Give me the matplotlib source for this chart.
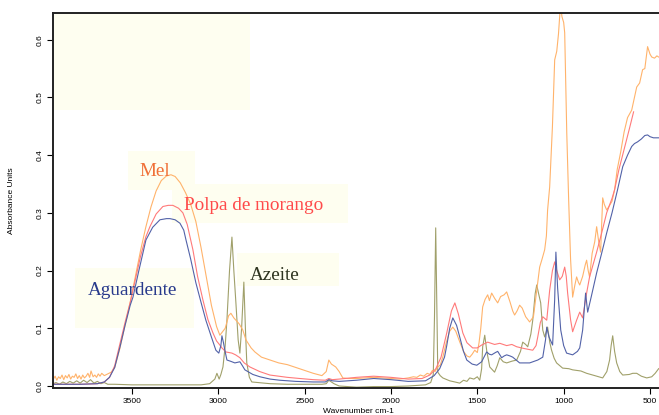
import matplotlib
matplotlib.use('Agg')
import matplotlib.pyplot as plt
from matplotlib.patches import Rectangle

# FTIR spectra - wavenumber (cm-1) and absorbance
mel_wn = [3955, 3945, 3935, 3925, 3915, 3905, 3895, 3885, 3875, 3865, 3855, 3845,
          3835, 3825, 3815, 3805, 3795, 3785, 3775, 3765, 3755, 3745, 3737, 3725,
          3715, 3705, 3695, 3685, 3675, 3660, 3640, 3620, 3600, 3570, 3540, 3510,
          3480, 3450, 3420, 3390, 3360, 3330, 3300, 3274, 3250, 3220, 3190, 3160,
          3130, 3100, 3070, 3040, 3010, 2991, 2960, 2940, 2927, 2910, 2898, 2880,
          2858, 2840, 2810, 2788, 2750, 2700, 2650, 2600, 2550, 2500, 2450, 2400,
          2375, 2360, 2345, 2320, 2300, 2279, 2250, 2200, 2150, 2100, 2050, 2000,
          1950, 1900, 1870, 1850, 1830, 1810, 1790, 1775, 1760, 1745, 1730, 1715,
          1700, 1680, 1660, 1642, 1625, 1600, 1580, 1560, 1544, 1530, 1515, 1500,
          1490, 1480, 1469, 1455, 1440, 1430, 1417, 1400, 1382, 1365, 1345, 1330,
          1310, 1295, 1284, 1270, 1255, 1240, 1220, 1197, 1175, 1156, 1139, 1125,
          1110, 1100, 1093, 1081, 1065, 1052, 1040, 1030, 1022, 1017, 1010, 1000,
          994, 982, 971, 960, 948, 935, 925, 915, 907, 890, 875, 867, 858, 850,
          835, 820, 809, 797, 786, 774, 765, 751, 740, 720, 705, 690, 670, 650,
          630, 606, 590, 577, 560, 543, 530, 514, 500, 490, 474, 460, 450]
mel_abs = [0.012, 0.017, 0.010, 0.016, 0.013, 0.019, 0.011, 0.018, 0.014, 0.020, 0.012, 0.017,
           0.015, 0.021, 0.013, 0.018, 0.012, 0.019, 0.014, 0.017, 0.022, 0.015, 0.026, 0.016,
           0.019, 0.015, 0.021, 0.017, 0.022, 0.018, 0.021, 0.024, 0.032, 0.065, 0.105, 0.145,
           0.190, 0.235, 0.275, 0.310, 0.338, 0.356, 0.364, 0.366, 0.363, 0.352, 0.335, 0.315,
           0.285, 0.240, 0.190, 0.140, 0.103, 0.088, 0.100, 0.122, 0.126, 0.118, 0.114, 0.108,
           0.097, 0.080, 0.066, 0.059, 0.050, 0.045, 0.040, 0.037, 0.032, 0.027, 0.022, 0.018,
           0.025, 0.045, 0.038, 0.033, 0.025, 0.014, 0.013, 0.013, 0.014, 0.015, 0.014, 0.013,
           0.012, 0.014, 0.016, 0.015, 0.019, 0.017, 0.022, 0.020, 0.027, 0.025, 0.033, 0.036,
           0.050, 0.075, 0.095, 0.102, 0.095, 0.075, 0.060, 0.052, 0.050, 0.055, 0.062, 0.058,
           0.075, 0.100, 0.137, 0.150, 0.158, 0.148, 0.161, 0.152, 0.144, 0.155, 0.158, 0.163,
           0.145, 0.130, 0.123, 0.130, 0.140, 0.135, 0.120, 0.111, 0.120, 0.166, 0.206, 0.220,
           0.236, 0.260, 0.305, 0.345, 0.450, 0.565, 0.580, 0.610, 0.645, 0.660, 0.640, 0.630,
           0.612, 0.438, 0.322, 0.220, 0.154, 0.175, 0.189, 0.180, 0.175, 0.190, 0.210, 0.218, 0.200, 0.189,
           0.230, 0.250, 0.276, 0.250, 0.232, 0.326, 0.315, 0.305, 0.310, 0.320, 0.340, 0.375, 0.405, 0.440,
           0.465, 0.478, 0.500, 0.518, 0.525, 0.548, 0.550, 0.588, 0.575, 0.570, 0.568, 0.572, 0.570]

polpa_wn = [3955, 3800, 3700, 3660, 3630, 3600, 3569, 3540, 3510, 3480, 3450, 3420,
            3396, 3360, 3321, 3290, 3263, 3230, 3205, 3180, 3147, 3120, 3089, 3060,
            3031, 3010, 2991, 2979, 2956, 2921, 2900, 2875, 2850, 2817, 2760, 2701,
            2600, 2528, 2450, 2380, 2360, 2340, 2300, 2200, 2100, 2000, 1900, 1820,
            1775, 1740, 1710, 1677, 1650, 1630, 1610, 1584, 1560, 1527, 1500, 1475,
            1440, 1400, 1370, 1330, 1300, 1272, 1230, 1179, 1160, 1150, 1135, 1121,
            1098, 1081, 1065, 1052, 1040, 1023, 1008, 994, 985, 977, 960, 948,
            925, 907, 890, 867, 850, 830, 809, 780, 751, 720, 705, 680, 650, 620, 595]
polpa_abs = [0.003, 0.003, 0.004, 0.007, 0.015, 0.035, 0.074, 0.110, 0.145, 0.185, 0.225, 0.258,
             0.276, 0.298, 0.311, 0.313, 0.313, 0.308, 0.300, 0.280, 0.236, 0.190, 0.149, 0.115,
             0.092, 0.078, 0.071, 0.066, 0.059, 0.057, 0.054, 0.049, 0.040, 0.033, 0.025, 0.019,
             0.015, 0.013, 0.011, 0.010, 0.013, 0.011, 0.012, 0.015, 0.017, 0.015, 0.012, 0.013,
             0.019, 0.030, 0.050, 0.092, 0.130, 0.144, 0.125, 0.092, 0.075, 0.066, 0.066, 0.071,
             0.076, 0.072, 0.074, 0.070, 0.072, 0.068, 0.065, 0.062, 0.070, 0.085, 0.110, 0.120,
             0.114, 0.166, 0.200, 0.215, 0.200, 0.184, 0.190, 0.206, 0.190, 0.161, 0.115, 0.094,
             0.114, 0.128, 0.118, 0.161, 0.189, 0.210, 0.232, 0.265, 0.300, 0.325, 0.340, 0.375, 0.410, 0.445, 0.475]

aguard_wn = [3955, 3800, 3700, 3660, 3630, 3600, 3569, 3540, 3510, 3494, 3460, 3419,
             3380, 3338, 3300, 3280, 3250, 3222, 3200, 3187, 3160, 3130, 3100, 3072,
             3040, 3014, 2997, 2985, 2979, 2970, 2962, 2950, 2930, 2904, 2875, 2860,
             2846, 2800, 2759, 2700, 2644, 2550, 2450, 2380, 2360, 2340, 2300, 2200,
             2100, 2000, 1900, 1800, 1750, 1718, 1690, 1677, 1660, 1642, 1620, 1602,
             1580, 1561, 1530, 1503, 1475, 1446, 1430, 1417, 1395, 1382, 1359, 1345,
             1330, 1310, 1295, 1255, 1197, 1150, 1121, 1105, 1098, 1085, 1064, 1052,
             1045, 1035, 1017, 1000, 983, 948, 920, 907, 890, 873, 861, 840,
             809, 780, 751, 720, 688, 658, 630, 606, 590, 572, 550, 530,
             514, 500, 480, 450]
aguard_abs = [0.003, 0.003, 0.004, 0.007, 0.015, 0.032, 0.068, 0.105, 0.140, 0.154, 0.200, 0.253,
              0.275, 0.288, 0.290, 0.290, 0.288, 0.282, 0.270, 0.253, 0.220, 0.179, 0.145, 0.114,
              0.085, 0.062, 0.057, 0.070, 0.087, 0.075, 0.062, 0.045, 0.043, 0.040, 0.042, 0.035,
              0.028, 0.020, 0.016, 0.012, 0.010, 0.008, 0.007, 0.007, 0.011, 0.009, 0.008, 0.010,
              0.013, 0.011, 0.008, 0.009, 0.018, 0.030, 0.050, 0.070, 0.100, 0.118, 0.105, 0.085,
              0.060, 0.045, 0.038, 0.036, 0.042, 0.059, 0.055, 0.054, 0.058, 0.060, 0.049, 0.052,
              0.054, 0.052, 0.050, 0.040, 0.040, 0.045, 0.050, 0.080, 0.102, 0.085, 0.071, 0.150,
              0.232, 0.170, 0.097, 0.070, 0.057, 0.054, 0.060, 0.066, 0.097, 0.161, 0.128, 0.155,
              0.196, 0.230, 0.265, 0.300, 0.340, 0.380, 0.400, 0.415, 0.420, 0.423, 0.428, 0.434,
              0.435, 0.432, 0.430, 0.430]

azeite_wn = [3955, 3940, 3920, 3900, 3880, 3860, 3840, 3820, 3800, 3780, 3760, 3740,
             3720, 3700, 3680, 3660, 3640, 3600, 3500, 3400, 3200, 3100, 3050, 3020,
             3008, 2995, 2985, 2973, 2960, 2950, 2935, 2921, 2910, 2898, 2885, 2875,
             2865, 2852, 2843, 2835, 2820, 2806, 2700, 2600, 2400, 2375, 2360, 2345,
             2330, 2300, 2200, 2100, 2000, 1900, 1800, 1770, 1755, 1748, 1741, 1735,
             1729, 1715, 1700, 1660, 1630, 1602, 1580, 1560, 1544, 1520, 1500, 1486,
             1475, 1469, 1457, 1445, 1428, 1400, 1385, 1370, 1350, 1330, 1300, 1272,
             1250, 1237, 1220, 1208, 1190, 1179, 1165, 1156, 1145, 1133, 1121, 1110,
             1100, 1093, 1080, 1070, 1055, 1041, 1006, 970, 948, 900, 867, 820,
             774, 750, 734, 725, 716, 705, 693, 675, 658, 620, 600, 577,
             550, 519, 490, 470, 450]
azeite_abs = [0.004, 0.006, 0.003, 0.007, 0.004, 0.008, 0.005, 0.009, 0.005, 0.010, 0.006, 0.011,
              0.005, 0.008, 0.004, 0.006, 0.003, 0.003, 0.002, 0.002, 0.002, 0.002, 0.004, 0.012,
              0.022, 0.012, 0.020, 0.033, 0.070, 0.114, 0.200, 0.258, 0.200, 0.144, 0.080, 0.057,
              0.100, 0.180, 0.100, 0.040, 0.015, 0.007, 0.004, 0.003, 0.003, 0.004, 0.010, 0.007,
              0.004, 0.000, -0.002, -0.001, -0.001, 0.000, 0.002, 0.006, 0.020, 0.120, 0.274, 0.150,
              0.024, 0.018, 0.014, 0.009, 0.007, 0.005, 0.010, 0.008, 0.014, 0.012, 0.016, 0.010,
              0.030, 0.068, 0.088, 0.060, 0.033, 0.024, 0.035, 0.049, 0.042, 0.040, 0.043, 0.045,
              0.060, 0.076, 0.072, 0.068, 0.090, 0.114, 0.160, 0.175, 0.160, 0.144, 0.097, 0.085,
              0.095, 0.102, 0.075, 0.062, 0.048, 0.040, 0.031, 0.030, 0.028, 0.026, 0.022, 0.018,
              0.014, 0.025, 0.045, 0.070, 0.087, 0.060, 0.040, 0.025, 0.019, 0.020, 0.022, 0.022,
              0.017, 0.014, 0.016, 0.022, 0.030]

fig = plt.figure(figsize=(6.59, 4.15), dpi=100)
ax = fig.add_axes([0.081, 0.065, 0.925, 0.904])

box_col = '#fefef0'
# (x0, y0, x1, y1) of the shaded label boxes, data units
boxes = [(3957, 0.478, 2817, 0.647),
         (3523, 0.340, 3135, 0.407),
         (3269, 0.282, 2250, 0.350),
         (2892, 0.173, 2302, 0.230),
         (3830, 0.100, 3141, 0.205)]
for x0, y0, x1, y1 in boxes:
    ax.add_patch(Rectangle((x1, y0), x0 - x1, y1 - y0, facecolor=box_col,
                           edgecolor='none', zorder=0))

ax.plot(azeite_wn, azeite_abs, color='#a0a06a', lw=0.8)
ax.plot(mel_wn, mel_abs, color='#ffb36b', lw=0.8)
ax.plot(polpa_wn, polpa_abs, color='#ff7a7a', lw=0.8)
ax.plot(aguard_wn, aguard_abs, color='#5262a8', lw=0.8)

serif = 'Liberation Serif'
ax.text(3454, 0.371, 'Mel', color='#f07038', fontsize=13.8, family=serif, va='center')
ax.text(3199, 0.312, 'Polpa de morango', color='#ff4a4a', fontsize=13.8, family=serif, va='center')
ax.text(2817, 0.191, 'Azeite', color='#2e3420', fontsize=13.8, family=serif, va='center')
ax.text(3755, 0.166, 'Aguardente', color='#283a8c', fontsize=13.8, family=serif, va='center')

ax.set_xlim(3955, 425)
ax.set_ylim(-0.0035, 0.6465)
ax.set_xticks([3500, 3000, 2500, 2000, 1500, 1000, 500])
ax.set_yticks([0.0, 0.1, 0.2, 0.3, 0.4, 0.5, 0.6])
ax.tick_params(labelsize=6, length=4, width=0.8, pad=3)
for lab in ax.get_xticklabels() + ax.get_yticklabels():
    lab.set_family('Liberation Sans')
for lab in ax.get_yticklabels():
    lab.set_rotation(90)
    lab.set_va('center')
ax.spines['right'].set_visible(False)
for s in ['left', 'bottom', 'top']:
    ax.spines[s].set_linewidth(1.4)
    ax.spines[s].set_color('#222222')

ax.set_xlabel('Wavenumber cm-1', fontsize=6, family='Liberation Sans')
ax.set_ylabel('Absorbance Units', fontsize=6, family='Liberation Sans')
ax.xaxis.set_label_coords(0.5, -0.053)
ax.yaxis.set_label_coords(-0.063, 0.5)

plt.savefig('out.png', dpi=100)
